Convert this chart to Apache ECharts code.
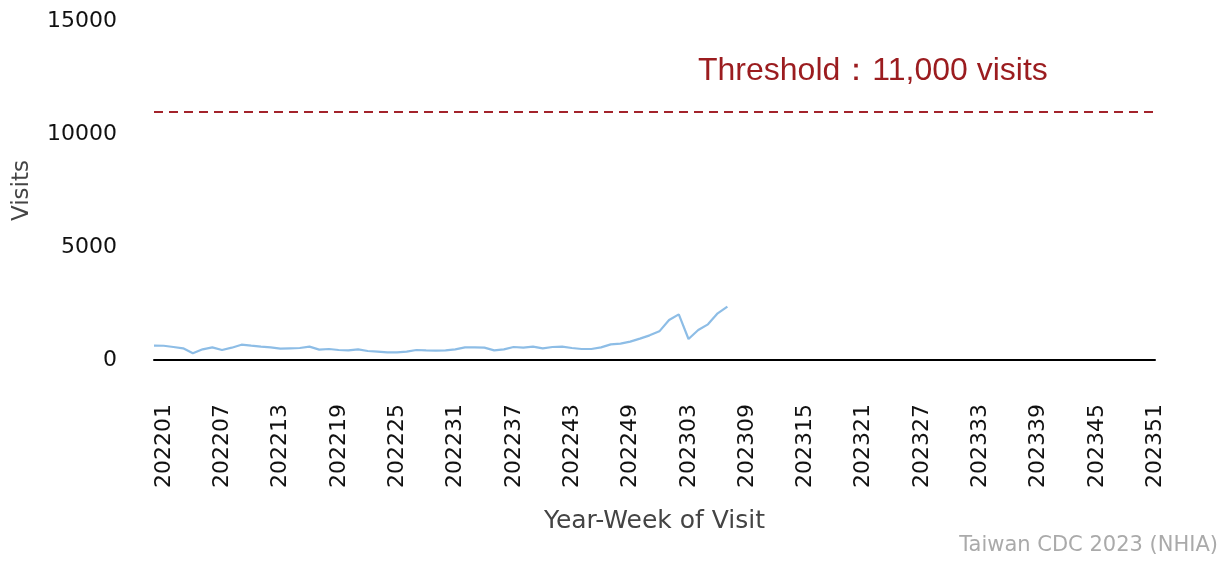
<!DOCTYPE html>
<html>
<head>
<meta charset="utf-8">
<script src="https://cdn.jsdelivr.net/npm/echarts@6/dist/echarts.min.js"></script>
<style>html,body{margin:0;padding:0;background:#fff}#c{width:1232px;height:561px}</style>
</head>
<body>
<div id="c"></div>
<script>
// Categories: year-week 202201..202252, 202301..202352
const weeks = [];
for (const y of [2022, 2023]) {
  for (let w = 1; w <= 52; w++) weeks.push(String(y) + String(w).padStart(2, '0'));
}
// Weekly visits (202201 .. 202308)
const visits = [633, 630, 575, 517, 295, 472, 560, 442, 545, 678,
  633, 590, 560, 502, 517, 531, 590, 457, 486, 442,
  427, 472, 398, 369, 339, 339, 369, 442, 427, 413,
  427, 472, 560, 560, 545, 427, 472, 575, 545, 590,
  517, 575, 590, 531, 487, 487, 560, 693, 723, 811,
  944, 1091, 1268, 1770, 2020, 929, 1327, 1578, 2064, 2360];
const threshold = 11000;
const yTicks = [0, 5000, 10000, 15000];

const FONT = "'DejaVu Sans', sans-serif";
const chart = echarts.init(document.getElementById('c'), null, {renderer: 'canvas'});
chart.setOption({
  animation: false,
  backgroundColor: '#ffffff',
  grid: {left: 154, right: 77, top: 21, bottom: 201},
  xAxis: {
    type: 'category',
    data: weeks,
    boundaryGap: false,
    name: 'Year-Week of Visit',
    nameLocation: 'middle',
    nameGap: 149,
    nameTextStyle: {fontFamily: FONT, fontSize: 25, color: '#444'},
    axisLine: {lineStyle: {color: '#000', width: 2}},
    axisTick: {show: false},
    splitLine: {show: false},
    axisLabel: {
      rotate: 90,
      interval: 5,
      margin: 44,
      verticalAlign: 'top',
      lineHeight: 20,
      fontFamily: FONT,
      fontSize: 22,
      color: '#111'
    }
  },
  yAxis: {
    type: 'value',
    min: yTicks[0],
    max: yTicks[yTicks.length - 1],
    interval: 5000,
    name: 'Visits',
    nameLocation: 'middle',
    nameGap: 120,
    nameTextStyle: {fontFamily: FONT, fontSize: 23, color: '#444'},
    axisLine: {show: false},
    axisTick: {show: false},
    splitLine: {show: false},
    axisLabel: {margin: 37, fontFamily: FONT, fontSize: 22, color: '#111',
      formatter: v => String(v)}
  },
  series: [{
    type: 'line',
    data: visits,
    showSymbol: false,
    lineStyle: {color: '#8dbde6', width: 2.2},
    itemStyle: {color: '#8dbde6'},
    markLine: {
      silent: true,
      symbol: 'none',
      label: {show: false},
      lineStyle: {color: '#a3232b', width: 2, type: [9, 6]},
      data: [[{coord: [0, threshold]}, {coord: [weeks.length - 1, threshold]}]]
    }
  }],
  graphic: [
    {type: 'text', left: 698, top: 55,
      style: {text: 'Threshold：11,000 visits', font: '32px "Liberation Sans", Arial, sans-serif', fill: '#9b1c1f'}},
    {type: 'text', right: 14, top: 535,
      style: {text: 'Taiwan CDC 2023 (NHIA)', font: '21px "DejaVu Sans"', fill: '#aaaaaa'}}
  ]
});
</script>
</body>
</html>
